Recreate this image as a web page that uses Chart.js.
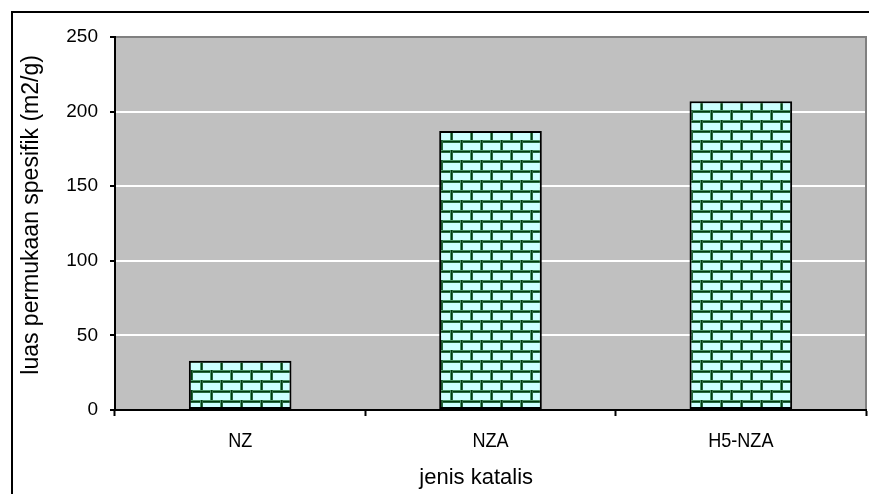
<!DOCTYPE html>
<html>
<head>
<meta charset="utf-8">
<script src="https://cdn.jsdelivr.net/npm/chart.js@4/dist/chart.umd.min.js"></script>
<style>
  html, body { margin: 0; padding: 0; background: #fff; overflow: hidden; }
  canvas { display: block; }
</style>
</head>
<body>
<canvas id="c" width="869" height="494"></canvas>
<script>
// Specific surface area per catalyst type
const categories = ['NZ', 'NZA', 'H5-NZA'];
const surfaceArea = [33, 187, 207];
const yTickValues = [0, 50, 100, 150, 200, 250];

const axisTitleX = 'jenis katalis';
const axisTitleY = 'luas permukaan spesifik (m2/g)';

const FONT = "'Liberation Sans', Arial, sans-serif";

// Light turquoise bricks with dark green joints
function brickPattern() {
  const p = document.createElement('canvas');
  p.width = 20; p.height = 20;
  const g = p.getContext('2d');
  const mid = '#4A9468', dark = '#003A10';
  g.fillStyle = '#CCFFFF';
  g.fillRect(0, 0, 20, 20);
  // horizontal joints
  [0, 10].forEach(y => {
    g.fillStyle = mid;  g.fillRect(0, y, 20, 3);
    g.fillStyle = dark; g.fillRect(0, y + 1, 20, 1.5);
  });
  // vertical joints, staggered on alternate courses
  [[0, 0], [10, 10]].forEach(([x, y]) => {
    g.fillStyle = mid;  g.fillRect(x, y, 3, 10);
    g.fillStyle = dark; g.fillRect(x + 1, y, 1.5, 10);
  });
  return g.createPattern(p, 'repeat');
}

// Grey plot background, grey plot edge, condensed category labels,
// axis titles and the outer chart frame
const framePlugin = {
  id: 'frame',
  beforeDraw(chart) {
    const { ctx, chartArea: a } = chart;
    ctx.save();
    ctx.fillStyle = '#FFFFFF';
    ctx.fillRect(0, 0, chart.width, chart.height);
    ctx.fillStyle = '#C0C0C0';
    ctx.fillRect(a.left, a.top, a.right - a.left, a.bottom - a.top);
    ctx.restore();
  },
  afterDraw(chart) {
    const { ctx, chartArea: a } = chart;
    const xs = chart.scales.x;
    ctx.save();
    ctx.strokeStyle = '#808080';
    ctx.lineWidth = 2;
    ctx.beginPath();
    ctx.moveTo(a.left + 1, a.top);
    ctx.lineTo(a.right, a.top);
    ctx.lineTo(a.right, a.bottom - 1);
    ctx.stroke();

    // category labels, narrow lettering
    ctx.fillStyle = '#000000';
    ctx.textAlign = 'center';
    ctx.textBaseline = 'middle';
    ctx.font = '21px ' + FONT;
    categories.forEach((label, i) => {
      ctx.save();
      ctx.translate(xs.getPixelForTick(i), a.bottom + 31);
      ctx.scale(0.86, 1);
      ctx.fillText(label, 0, 0);
      ctx.restore();
    });

    // axis titles
    ctx.font = '22px ' + FONT;
    ctx.fillText(axisTitleX, a.left + (a.right - a.left) * 0.481, a.bottom + 68);
    ctx.save();
    ctx.translate(32, a.top + (a.bottom - a.top) * 0.477);
    ctx.rotate(-Math.PI / 2);
    ctx.font = '23px ' + FONT;
    ctx.fillText(axisTitleY, 0, 0);
    ctx.restore();

    ctx.strokeStyle = '#000000';
    ctx.lineWidth = 2;
    ctx.strokeRect(12, 12, chart.width + 20, chart.height + 20);
    ctx.restore();
  }
};

new Chart(document.getElementById('c'), {
  type: 'bar',
  data: {
    labels: categories,
    datasets: [{
      data: surfaceArea,
      backgroundColor: brickPattern(),
      borderColor: '#000000',
      borderWidth: 2,
      borderSkipped: false,
      barPercentage: 0.41,
      categoryPercentage: 1
    }]
  },
  options: {
    responsive: false,
    animation: false,
    devicePixelRatio: 1,
    layout: { padding: { left: 0, top: 37, right: 3, bottom: 0 } },
    plugins: { legend: { display: false }, tooltip: { enabled: false } },
    scales: {
      x: {
        offset: true,
        grid: {
          offset: true,
          drawOnChartArea: false,
          tickLength: 6,
          tickColor: '#000000',
          tickWidth: 2
        },
        border: { color: '#000000', width: 2 },
        ticks: { display: false },
        afterFit(s) { s.height = 84; }
      },
      y: {
        min: 0,
        max: 250,
        afterBuildTicks(s) { s.ticks = yTickValues.map(v => ({ value: v })); },
        grid: {
          color: c => (c.tick && (c.tick.value === 0 || c.tick.value === 250)) ? 'rgba(0,0,0,0)' : '#FFFFFF',
          lineWidth: 2,
          tickLength: 5,
          tickColor: '#000000',
          tickWidth: 2
        },
        border: { color: '#000000', width: 2 },
        ticks: {
          color: '#000000',
          padding: 12,
          font: { family: FONT, size: 19 }
        },
        afterFit(s) { s.width = 115; }
      }
    }
  },
  plugins: [framePlugin]
});
</script>
</body>
</html>
